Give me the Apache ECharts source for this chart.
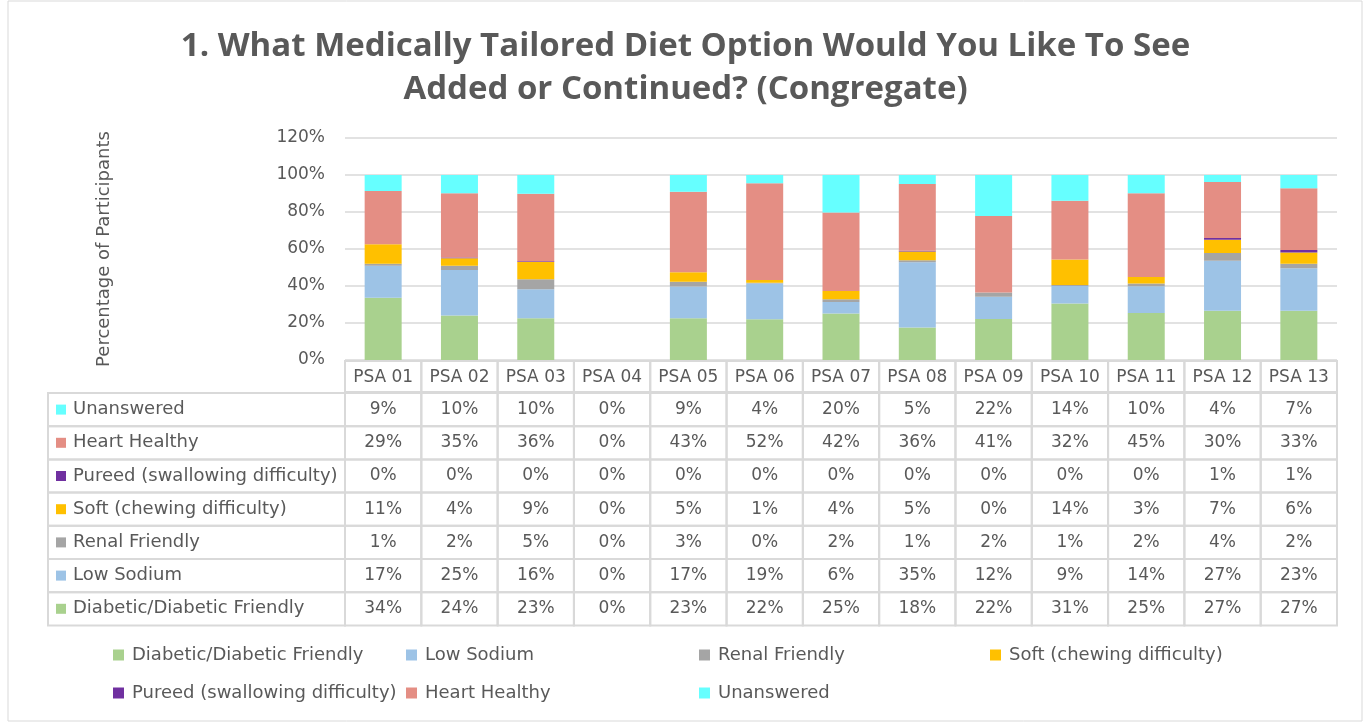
<!DOCTYPE html>
<html>
<head>
<meta charset="utf-8">
<title>Medically Tailored Diet Option (Congregate)</title>
<script src="https://cdn.jsdelivr.net/npm/echarts@6/dist/echarts.min.js"></script>
<style>
  html, body { margin: 0; padding: 0; background: #fff; }
  #chart { width: 1371px; height: 723px; }
</style>
</head>
<body>
<div id="chart"></div>
<script>
// values (percent) estimated from the bars; the table shows them rounded
var categories = ["PSA 01", "PSA 02", "PSA 03", "PSA 04", "PSA 05", "PSA 06", "PSA 07",
                  "PSA 08", "PSA 09", "PSA 10", "PSA 11", "PSA 12", "PSA 13"];
var diabetic   = [33.6, 24.0, 22.6, 0, 22.6, 22.0, 25.2, 17.6, 22.2, 30.6, 25.4, 26.6, 26.6];
var lowSodium  = [17.4, 24.6, 15.6, 0, 17.1, 19.4, 6.1, 35.2, 12.0, 9.4, 14.4, 27.1, 23.0];
var renal      = [1.0, 2.4, 5.4, 0, 2.6, 0.4, 1.6, 1.1, 2.3, 0.6, 1.6, 4.2, 2.4];
var soft       = [10.6, 4.0, 9.4, 0, 5.2, 1.4, 4.4, 4.7, 0, 13.7, 3.4, 7.1, 6.1];
var pureed     = [0, 0.4, 0.4, 0, 0, 0, 0, 0.4, 0, 0, 0, 1.0, 1.4];
var heart      = [28.8, 34.8, 36.4, 0, 43.4, 52.4, 42.4, 36.2, 41.3, 31.8, 45.4, 30.2, 33.4];
var unanswered = [8.6, 9.8, 10.2, 0, 9.1, 4.4, 20.3, 4.8, 22.2, 13.9, 9.8, 3.8, 7.1];
var yTicks = [0, 20, 40, 60, 80, 100, 120];

var seriesDefs = [
  { name: "Diabetic/Diabetic Friendly", data: diabetic, color: "#a9d18e" },
  { name: "Low Sodium", data: lowSodium, color: "#9dc3e6" },
  { name: "Renal Friendly", data: renal, color: "#a5a5a5" },
  { name: "Soft (chewing difficulty)", data: soft, color: "#ffc000" },
  { name: "Pureed (swallowing difficulty)", data: pureed, color: "#7030a0" },
  { name: "Heart Healthy", data: heart, color: "#e48e84" },
  { name: "Unanswered", data: unanswered, color: "#66ffff" }
];

var font = "'DejaVu Sans', sans-serif";
var titleFont = "'Open Sans', sans-serif";
var textColor = "#595959";
var lineColor = "#d9d9d9";

// plot / table layout
var gridLeft = 345, gridRight = 1337, gridTop = 138, gridBottom = 360;
var colW = (gridRight - gridLeft) / categories.length;
var headH = 31, rowH = 33.2, labelLeft = 48;

var chart = echarts.init(document.getElementById("chart"));

function buildTable() {
  var els = [];
  // outer chart border
  els.push({ type: "rect", shape: { x: 8, y: 1, width: 1354, height: 720 },
    style: { fill: "none", stroke: lineColor, lineWidth: 1 }, silent: true });
  // header cells (text comes from x axis labels)
  for (var i = 0; i < categories.length; i++) {
    els.push({ type: "rect", shape: { x: gridLeft + i * colW, y: gridBottom + 1, width: colW, height: headH },
      style: { fill: "none", stroke: lineColor, lineWidth: 2 } });
  }
  // rows, top row = last series
  var rows = seriesDefs.slice().reverse();
  var top0 = gridBottom + 2 + headH;
  rows.forEach(function (s, r) {
    var y = top0 + r * rowH;
    els.push({ type: "rect", shape: { x: labelLeft, y: y, width: gridLeft - labelLeft, height: rowH },
      style: { fill: "none", stroke: lineColor, lineWidth: 2 } });
    els.push({ type: "rect", shape: { x: 56, y: y + rowH / 2 - 5, width: 10, height: 10 },
      style: { fill: s.color } });
    els.push({ type: "text", x: 73, y: y + rowH / 2,
      style: { text: s.name, fill: textColor, font: "18px " + font, textVerticalAlign: "middle" } });
    for (var i = 0; i < categories.length; i++) {
      var x = gridLeft + i * colW;
      els.push({ type: "rect", shape: { x: x, y: y, width: colW, height: rowH },
        style: { fill: "none", stroke: lineColor, lineWidth: 2 } });
      els.push({ type: "text", x: x + colW / 2, y: y + rowH / 2,
        style: { text: Math.round(s.data[i]) + "%", fill: textColor, font: "17px " + font,
          textAlign: "center", textVerticalAlign: "middle" } });
    }
  });
  return els;
}

// legend columns like the reference layout
var legendCols = [
  { left: 113, names: ["Diabetic/Diabetic Friendly", "Pureed (swallowing difficulty)"] },
  { left: 406, names: ["Low Sodium", "Heart Healthy"] },
  { left: 699, names: ["Renal Friendly", "Unanswered"] },
  { left: 990, names: ["Soft (chewing difficulty)"] }
];

var option = {
  animation: false,
  title: {
    text: "1. What Medically Tailored Diet Option Would You Like To See\nAdded or Continued? (Congregate)",
    left: "center",
    top: 20,
    textStyle: { fontFamily: titleFont, fontSize: 33, fontWeight: "bold", color: textColor, lineHeight: 43 }
  },
  legend: legendCols.map(function (c) {
    return {
      left: c.left, top: 645, orient: "vertical", padding: 0,
      data: c.names, icon: "rect", itemWidth: 11, itemHeight: 11, itemGap: 18,
      selectedMode: false,
      textStyle: { fontFamily: font, fontSize: 18, color: textColor, lineHeight: 20, padding: [0, 0, 0, 3] }
    };
  }),
  grid: { left: gridLeft, right: 1371 - gridRight, top: gridTop, bottom: 723 - gridBottom, containLabel: false },
  xAxis: {
    type: "category",
    data: categories,
    axisLine: { show: false },
    axisTick: { show: false },
    axisLabel: { margin: 9, fontFamily: font, fontSize: 17, color: textColor, interval: 0 }
  },
  yAxis: {
    type: "value",
    min: yTicks[0], max: yTicks[yTicks.length - 1], interval: 20,
    name: "Percentage of Participants",
    nameLocation: "middle",
    nameGap: 232,
    nameTextStyle: { fontFamily: font, fontSize: 18, color: textColor },
    axisLabel: { formatter: "{value}%", fontFamily: font, fontSize: 17, color: textColor, margin: 20 },
    splitLine: { lineStyle: { color: lineColor, width: 1.5 } },
    axisLine: { show: false },
    axisTick: { show: false }
  },
  series: seriesDefs.map(function (s) {
    return {
      name: s.name, type: "bar", stack: "total", barWidth: 37,
      data: s.data, itemStyle: { color: s.color }
    };
  }),
  graphic: buildTable()
};

chart.setOption(option);
</script>
</body>
</html>
